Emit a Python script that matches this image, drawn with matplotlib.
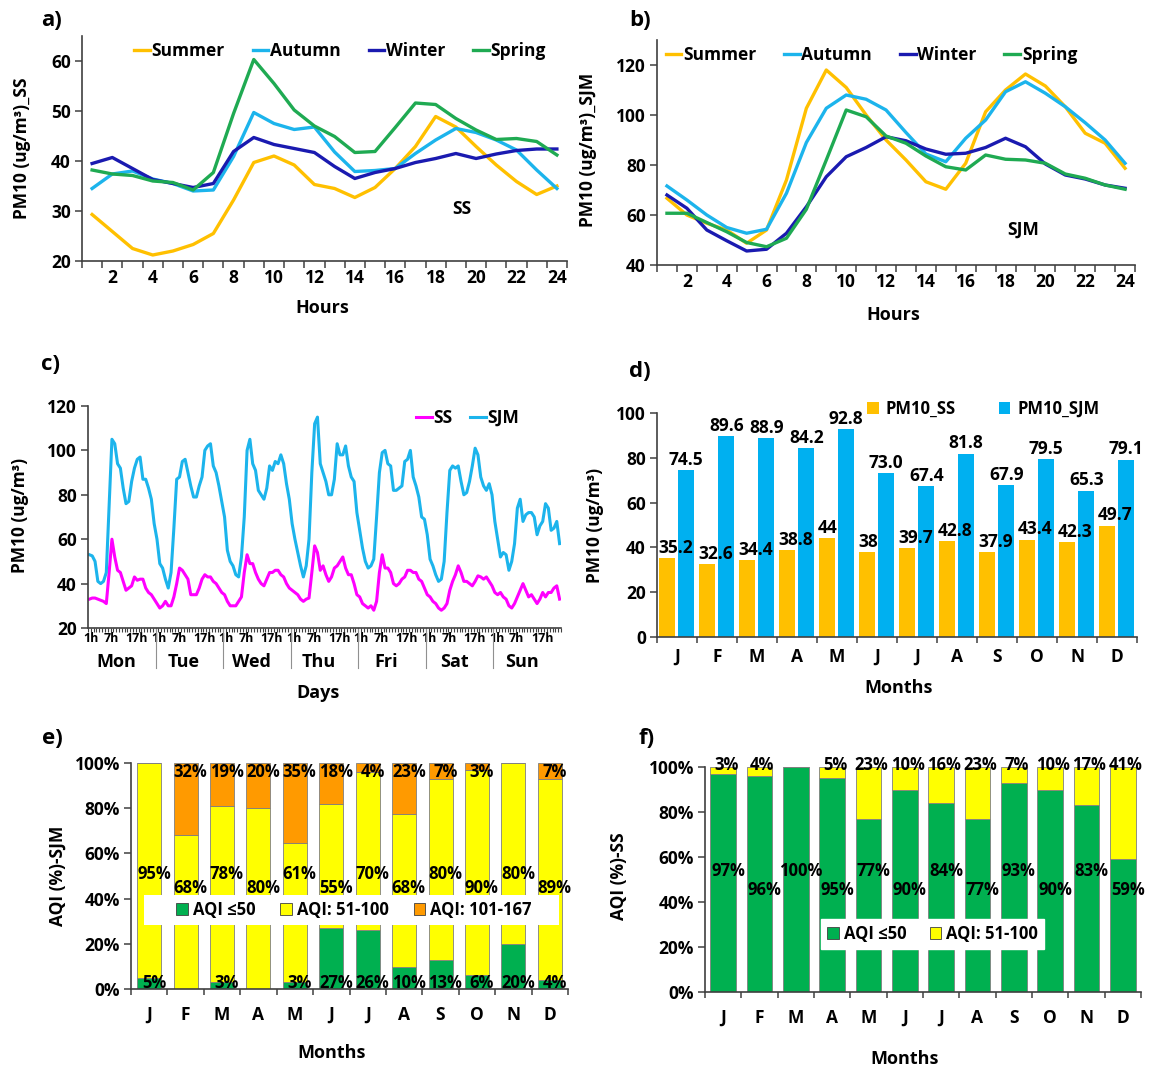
import numpy as np
import matplotlib
matplotlib.use("Agg")
import matplotlib.pyplot as plt
from matplotlib.patches import Patch, Rectangle
from matplotlib.transforms import blended_transform_factory

plt.rcParams['font.family'] = ['Open Sans', 'DejaVu Sans']
plt.rcParams['font.weight'] = 'bold'

# ---- data ----
hours = np.arange(1, 25)
seasons = ["Summer", "Autumn", "Winter", "Spring"]
season_colors = ["#FFC000", "#1CB4EC", "#1A1AB0", "#1FAA52"]

# a) diurnal PM10 at SS
ss_summer = [29.3, 25.9, 22.5, 21.2, 22.0, 23.3, 25.5, 32.2, 39.7, 41.0, 39.2, 35.3,
             34.5, 32.7, 34.7, 38.5, 42.9, 48.9, 46.8, 42.9, 39.2, 35.9, 33.3, 35.0]
ss_autumn = [34.5, 37.4, 38.0, 36.4, 35.5, 34.0, 34.2, 40.9, 49.7, 47.5, 46.3, 46.8,
             41.8, 37.9, 38.1, 38.5, 41.5, 44.2, 46.5, 45.7, 44.2, 42.2, 38.2, 34.5]
ss_winter = [39.5, 40.7, 38.5, 36.3, 35.5, 34.7, 35.5, 41.9, 44.7, 43.3, 42.5, 41.7,
             38.9, 36.5, 37.7, 38.5, 39.7, 40.5, 41.5, 40.5, 41.4, 42.1, 42.4, 42.4]
ss_spring = [38.2, 37.4, 37.1, 36.0, 35.7, 34.2, 37.7, 49.5, 60.3, 55.5, 50.2, 47.0,
             44.9, 41.7, 41.9, 46.7, 51.6, 51.3, 48.5, 46.2, 44.3, 44.5, 43.9, 41.2]

# b) diurnal PM10 at SJM
sjm_summer = [66.7, 60.0, 56.7, 54.0, 48.7, 54.0, 74.0, 102.7, 118.0, 111.0, 100.0, 90.0,
              82.0, 73.3, 70.3, 80.7, 101.3, 110.0, 116.4, 111.6, 103.3, 92.7, 88.7, 78.7]
sjm_autumn = [71.6, 66.0, 60.0, 55.0, 52.7, 54.3, 68.7, 89.0, 102.7, 108.0, 106.3, 102.0,
              93.0, 84.4, 81.3, 90.7, 98.0, 109.3, 113.3, 108.7, 103.3, 96.9, 90.0, 80.7]
sjm_winter = [68.0, 62.7, 54.0, 49.7, 45.6, 46.3, 52.7, 63.3, 75.3, 83.3, 87.0, 91.3,
              89.7, 86.4, 84.3, 84.7, 87.0, 90.7, 87.3, 80.4, 76.0, 74.4, 72.0, 70.7]
sjm_spring = [60.7, 60.7, 57.0, 53.3, 49.0, 47.3, 50.7, 62.3, 82.0, 102.0, 99.3, 91.6,
              88.7, 83.6, 79.3, 78.0, 84.0, 82.3, 82.0, 80.7, 76.4, 74.7, 72.0, 70.3]

# c) weekly hourly profile
days = ["Mon", "Tue", "Wed", "Thu", "Fri", "Sat", "Sun"]
hour_marks = ["1h", "7h", "17h"]
sjm_week = [
    53, 52.5, 50, 41, 40, 41, 45, 75, 105, 103, 94, 92, 83, 76, 77, 86, 92, 96, 97, 87, 87, 83, 78, 67,
    60, 49, 47, 42, 38, 45, 65, 87, 88, 95, 96, 90, 84, 79, 79, 84, 88, 100, 102, 103, 93, 90, 84, 77,
    70, 55, 50, 48, 44, 43, 52, 70, 100, 105, 94, 91, 82, 80, 78, 83, 93, 91, 95, 94, 98, 94, 85, 78,
    67, 60, 54, 48, 43, 48, 60, 90, 112, 115, 94, 90, 86, 80, 80, 87, 103, 98, 98, 102, 93, 88, 86, 72,
    64, 56, 50, 47, 48, 51, 70, 90, 99, 100, 94, 93, 82, 82, 83, 84, 95, 96, 100, 88, 84, 79, 70, 69,
    62, 51, 48, 44, 41, 42, 50, 72, 91, 93, 92, 93, 86, 80, 81, 86, 93, 101, 98, 88, 84, 82, 85, 80,
    68, 60, 52, 54, 53, 46, 50, 58, 74, 78, 68, 71, 72, 72, 70, 62, 66, 68, 76, 74, 64, 65, 68, 58,
]
ss_week = [
    33, 33.5, 33.5, 33, 32.5, 32, 31, 45, 60, 52, 46, 45, 41, 37, 38, 39, 43, 41.5, 42, 42, 38, 36, 35, 33,
    31, 29, 30, 32, 30, 30, 34, 40, 47, 46, 44, 42, 35, 35, 35, 38, 42, 44, 43, 43, 41, 40, 38, 36,
    35, 32, 30, 30, 30, 32, 34, 45, 53, 49, 49, 45, 42, 40, 39, 42, 45, 45, 46, 46, 44, 43, 40, 38,
    37, 36, 35, 33, 32, 33, 33.5, 45, 57, 54, 46, 48, 44, 41, 43, 47, 48, 50, 52, 47, 44, 44, 40, 35,
    34, 31, 30, 29, 30, 28, 32, 45, 53, 47, 47, 45, 40, 39, 40, 42, 43, 46, 46, 45, 45, 42, 41, 38,
    35, 34, 32, 31, 29, 28, 29, 31, 37, 41, 44, 48, 45, 41, 41, 40, 39, 41, 43.5, 43, 42, 43, 41, 39,
    36, 35, 36, 34, 33, 30, 29, 31, 34, 37, 40, 37, 34, 35, 33, 31, 33, 36, 34, 36, 36, 38, 39, 33,
]

# d) monthly means
months = ["J", "F", "M", "A", "M", "J", "J", "A", "S", "O", "N", "D"]
pm10_ss = [35.2, 32.6, 34.4, 38.8, 44, 38, 39.7, 42.8, 37.9, 43.4, 42.3, 49.7]
pm10_sjm = [74.5, 89.6, 88.9, 84.2, 92.8, 73.0, 67.4, 81.8, 67.9, 79.5, 65.3, 79.1]

# e) AQI shares at SJM (%)
sjm_good = [5, 0, 3, 0, 3, 27, 26, 10, 13, 6, 20, 4]
sjm_moderate = [95, 68, 78, 80, 61, 55, 70, 68, 80, 90, 80, 89]
sjm_unhealthy = [0, 32, 19, 20, 35, 18, 4, 23, 7, 3, 0, 7]

# f) AQI shares at SS (%)
ss_good = [97, 96, 100, 95, 77, 90, 84, 77, 93, 90, 83, 59]
ss_moderate = [3, 4, 0, 5, 23, 10, 16, 23, 7, 10, 17, 41]

GREEN = "#00B050"
YELLOW = "#FFFF00"
ORANGE = "#FF9A00"
GOLD = "#FFC000"
SKY = "#00B0F0"

W, H = 1154, 1069
fig = plt.figure(figsize=(W / 100, H / 100), dpi=100)


def place(l, t, r, b):
    return fig.add_axes([l / W, 1 - b / H, (r - l) / W, (b - t) / H])


def ftext(x, y, s, **kw):
    fig.text(x / W, 1 - y / H, s, ha=kw.pop('ha', 'center'), va=kw.pop('va', 'center'),
             fontweight='bold', **kw)


def style(ax):
    for s in ['top', 'right']:
        ax.spines[s].set_visible(False)
    for s in ['left', 'bottom']:
        ax.spines[s].set_color('#404040')
        ax.spines[s].set_linewidth(1.2)
    ax.tick_params(axis='both', which='both', direction='out', color='#404040',
                   labelsize=12.5, width=1.1)
    ax.tick_params(axis='y', length=5, pad=3)


def hour_axis(ax):
    ax.set_xlim(0.5, 24.5)
    ax.set_xticks(range(2, 25, 2))
    ax.set_xticks(np.arange(0.5, 25, 1), minor=True)
    ax.tick_params(axis='x', which='major', length=0, pad=6)
    ax.tick_params(axis='x', which='minor', length=5)


# ---- a ----
ax = place(82, 36, 567, 261)
for vals, c, n in zip([ss_summer, ss_autumn, ss_winter, ss_spring], season_colors, seasons):
    ax.plot(hours, vals, color=c, lw=2.4, label=n)
ax.set_ylim(20, 65)
ax.set_yticks(range(20, 61, 10))
hour_axis(ax)
style(ax)
ax.legend(ncol=4, loc='center left', bbox_to_anchor=(0.09, 0.935), frameon=False,
          handlelength=0.9, handletextpad=0.1, columnspacing=1.6, fontsize=12.5, borderpad=0)
ax.text(19.3, 30.5, "SS", fontsize=12.5, fontweight='bold', ha='center', va='center')
ftext(52, 20, "a)", fontsize=16)
ftext(22, 148, "PM10 (ug/m³)_SS", rotation=90, fontsize=12.5)
ftext(322, 308, "Hours", fontsize=13)

# ---- b ----
ax = place(657, 40, 1135, 265)
for vals, c, n in zip([sjm_summer, sjm_autumn, sjm_winter, sjm_spring], season_colors, seasons):
    ax.plot(hours, vals, color=c, lw=2.4, label=n)
ax.set_ylim(40, 130)
ax.set_yticks(range(40, 121, 20))
hour_axis(ax)
style(ax)
ax.legend(ncol=4, loc='center left', bbox_to_anchor=(0.0, 0.935), frameon=False,
          handlelength=0.9, handletextpad=0.1, columnspacing=1.6, fontsize=12.5, borderpad=0)
ax.text(18.9, 54, "SJM", fontsize=12.5, fontweight='bold', ha='center', va='center')
ftext(640, 20, "b)", fontsize=16)
ftext(588, 150, "PM10 (ug/m³)_SJM", rotation=90, fontsize=12.5)
ftext(893, 315, "Hours", fontsize=13)

# ---- c ----
ax = place(88, 406, 561, 628)
x_week = np.arange(1, len(sjm_week) + 1)
ax.plot(x_week, ss_week, color="#FF00FF", lw=2.2, label="SS")
ax.plot(x_week, sjm_week, color="#1CB4EC", lw=2.2, label="SJM")
ax.set_xlim(0.5, len(sjm_week) + 0.5)
ax.set_ylim(20, 120)
ax.set_yticks(range(20, 121, 20))
style(ax)
ax.set_xticks(np.arange(0.5, len(sjm_week) + 1, 1), minor=True)
ax.tick_params(axis='x', which='minor', length=3, width=0.8)
mark_shift = {"1h": 1.6, "7h": 8.8, "17h": 17.8}
mark_pos = []
mark_lab = []
for d in range(len(days)):
    for m in hour_marks:
        mark_pos.append(24 * d + mark_shift[m])
        mark_lab.append(m)
ax.set_xticks(mark_pos)
ax.set_xticklabels(mark_lab, fontsize=9)
ax.tick_params(axis='x', which='major', length=0, pad=3)
tr = blended_transform_factory(ax.transData, ax.transAxes)
for d, name in enumerate(days):
    ax.text(24 * d + 10.5, -0.155, name, transform=tr, ha='center', va='center',
            fontsize=13, fontweight='bold')
    if d > 0:
        ax.plot([24 * d + 0.5] * 2, [0, -0.18], transform=tr, color='#909090', lw=0.8,
                clip_on=False)
ax.legend(loc='center left', bbox_to_anchor=(0.675, 0.945), ncol=2, frameon=False,
          handlelength=0.9, handletextpad=0.1, columnspacing=1.0, fontsize=12.5, borderpad=0)
ftext(51, 365, "c)", fontsize=16)
ftext(20, 515, "PM10 (ug/m³)", rotation=90, fontsize=12.5)
ftext(318, 693, "Days", fontsize=13)

# ---- d ----
ax = place(657, 413, 1137, 637)
xm = np.arange(len(months))
ax.bar(xm - 0.25, pm10_ss, width=0.41, color=GOLD, label="PM10_SS")
ax.bar(xm + 0.23, pm10_sjm, width=0.41, color=SKY, label="PM10_SJM")
for i in range(len(months)):
    ax.text(xm[i] - 0.47, pm10_ss[i] + 0.6, str(pm10_ss[i]), ha='left', va='bottom',
            fontsize=12.5, fontweight='bold')
    ax.text(xm[i] + 0.23, pm10_sjm[i] + 0.6, f"{pm10_sjm[i]:.1f}", ha='center', va='bottom',
            fontsize=12.5, fontweight='bold')
ax.set_xlim(-0.5, len(months) - 0.5)
ax.set_ylim(0, 100)
ax.set_yticks(range(0, 101, 20))
ax.set_xticks(xm)
ax.set_xticklabels(months)
ax.set_xticks(np.arange(-0.5, len(months), 1), minor=True)
style(ax)
ax.tick_params(axis='x', which='major', length=0, pad=8)
ax.tick_params(axis='x', which='minor', length=4)
ax.legend(ncol=2, loc='center left', bbox_to_anchor=(0.42, 1.02), frameon=False,
          handlelength=0.7, handleheight=0.7, handletextpad=0.4, columnspacing=2.6,
          fontsize=12, borderpad=0)
ftext(640, 371, "d)", fontsize=16)
ftext(595, 525, "PM10 (ug/m³)", rotation=90, fontsize=12.5)
ftext(899, 688, "Months", fontsize=13)


def pct_axes(ax):
    ax.set_xlim(-0.5, len(months) - 0.5)
    ax.set_ylim(0, 100)
    ax.set_yticks(range(0, 101, 20))
    ax.set_yticklabels([f"{v}%" for v in range(0, 101, 20)])
    ax.set_xticks(np.arange(len(months)))
    ax.set_xticklabels(months)
    ax.set_xticks(np.arange(-0.5, len(months), 1), minor=True)
    style(ax)
    ax.tick_params(axis='x', which='major', length=0, pad=12)
    ax.tick_params(axis='x', which='minor', length=4)


# ---- e ----
ax = place(131, 763, 568, 989)
tot = np.array(sjm_good) + np.array(sjm_moderate) + np.array(sjm_unhealthy)
g = np.array(sjm_good) / tot * 100
y = np.array(sjm_moderate) / tot * 100
o = np.array(sjm_unhealthy) / tot * 100
edge = dict(edgecolor='#7f7f7f', linewidth=0.6)
ax.bar(xm, g, width=0.66, color=GREEN, **edge)
ax.bar(xm, y, width=0.66, bottom=g, color=YELLOW, **edge)
ax.bar(xm, o, width=0.66, bottom=g + y, color=ORANGE, **edge)
for i in range(len(months)):
    xl = xm[i] + 0.13
    if sjm_good[i] > 0:
        ax.text(xl, 2.6, f"{sjm_good[i]}%", ha='center', va='center', fontsize=12, fontweight='bold')
    ax.text(xl, 51 if i % 2 == 0 else 44.5, f"{sjm_moderate[i]}%", ha='center', va='center',
            fontsize=12, fontweight='bold')
    if sjm_unhealthy[i] > 0:
        ax.text(xl, 96, f"{sjm_unhealthy[i]}%", ha='center', va='center', fontsize=12,
                fontweight='bold')
pct_axes(ax)
ax.add_patch(Rectangle((0.029, 0.284), 0.95, 0.13, transform=ax.transAxes,
                       facecolor='white', edgecolor='none', zorder=4))
hand = [Patch(facecolor=GREEN, edgecolor='#404040', lw=0.6),
        Patch(facecolor=YELLOW, edgecolor='#404040', lw=0.6),
        Patch(facecolor=ORANGE, edgecolor='#404040', lw=0.6)]
leg = ax.legend(hand, ["AQI ≤50", "AQI: 51-100", "AQI: 101-167"], ncol=3, loc='center',
                bbox_to_anchor=(0.51, 0.349), frameon=False, handlelength=0.7, handleheight=0.7,
                handletextpad=0.3, columnspacing=1.5, fontsize=12, borderpad=0)
leg.set_zorder(5)
ftext(52, 739, "e)", fontsize=16)
ftext(58, 876, "AQI (%)-SJM", rotation=90, fontsize=12.5)
ftext(332, 1053, "Months", fontsize=13)

# ---- f ----
ax = place(705, 767, 1141, 992)
ax.bar(xm, ss_good, width=0.70, color=GREEN, **edge)
ax.bar(xm, ss_moderate, width=0.70, bottom=ss_good, color=YELLOW, **edge)
for i in range(len(months)):
    ax.text(xm[i] + 0.14, 54 if i % 2 == 0 else 45.5, f"{ss_good[i]}%", ha='center', va='center',
            fontsize=12, fontweight='bold')
    if ss_moderate[i] > 0:
        ax.text(xm[i] + 0.08, 100.9, f"{ss_moderate[i]}%", ha='center', va='center',
                fontsize=12, fontweight='bold')
pct_axes(ax)
leg = ax.legend(hand[:2], ["AQI ≤50", "AQI: 51-100"], ncol=2, loc='center',
                bbox_to_anchor=(0.522, 0.258), frameon=True, fancybox=False, framealpha=1,
                edgecolor='white', handlelength=0.7, handleheight=0.7, handletextpad=0.3,
                columnspacing=1.4, fontsize=12, borderpad=0.35)
leg.set_zorder(5)
ftext(647, 739, "f)", fontsize=16)
ftext(619, 876, "AQI (%)-SS", rotation=90, fontsize=12.5)
ftext(905, 1059, "Months", fontsize=13)

fig.savefig("out.png", dpi=100, facecolor='white')
